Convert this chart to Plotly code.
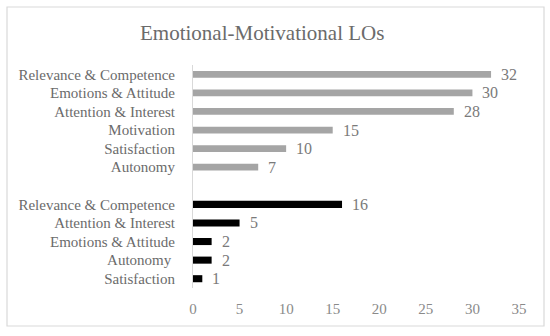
import plotly.graph_objects as go

title = "Emotional-Motivational LOs"
group1_labels = ["Relevance & Competence", "Emotions & Attitude", "Attention & Interest",
                 "Motivation", "Satisfaction", "Autonomy"]
group1_values = [32, 30, 28, 15, 10, 7]
group2_labels = ["Relevance & Competence", "Attention & Interest", "Emotions & Attitude",
                 "Autonomy\u00a0", "Satisfaction"]
group2_values = [16, 5, 2, 2, 1]
x_ticks = [0, 5, 10, 15, 20, 25, 30, 35]

FONT = "Liberation Serif"
n1 = len(group1_labels)
pos1 = list(range(n1))
pos2 = [n1 + 1 + i for i in range(len(group2_labels))]
n_rows = n1 + 1 + len(group2_labels)

fig = go.Figure()
fig.add_trace(go.Bar(y=pos1, x=group1_values, orientation="h",
                     marker=dict(color="#a5a5a5", line=dict(width=0)), width=0.36))
fig.add_trace(go.Bar(y=pos2, x=group2_values, orientation="h",
                     marker=dict(color="#000000", line=dict(width=0)), width=0.38))

for p, v in list(zip(pos1, group1_values)) + list(zip(pos2, group2_values)):
    fig.add_annotation(x=v, y=p, text=str(v), showarrow=False, xanchor="left",
                       xshift=8, font=dict(family=FONT, size=16, color="#7a7a7a"))

L, R, T, B = 193, 31, 65, 48
W, H = 550, 336
pw, ph = W - L - R, H - T - B
def px_x(px):
    return (px - L) / pw
def px_y(py):
    return (H - B - py) / ph

fig.add_shape(type="rect", xref="paper", yref="paper",
              x0=px_x(7), x1=px_x(544), y0=px_y(326), y1=px_y(7),
              line=dict(color="#d9d9d9", width=1.2), layer="below")

fig.add_annotation(xref="paper", yref="paper", x=px_x(262), y=px_y(33),
                   text=title, showarrow=False, xanchor="center", yanchor="middle",
                   font=dict(family=FONT, size=21, color="#6b6b6b"))

fig.update_layout(
    width=W, height=H, margin=dict(l=L, r=R, t=T, b=B),
    paper_bgcolor="white", plot_bgcolor="white", showlegend=False,
    barmode="overlay",
    xaxis=dict(range=[0, 35], tickvals=x_ticks, showgrid=False, zeroline=False,
               showline=False, ticks="", ticklabelstandoff=10,
               tickfont=dict(family=FONT, size=15, color="#8a8a8a")),
    yaxis=dict(range=[n_rows - 0.5, -0.5], tickvals=pos1 + pos2,
               ticktext=group1_labels + group2_labels, showgrid=False, zeroline=False,
               showline=True, linecolor="#d9d9d9", linewidth=1, ticks="",
               ticklabelstandoff=14,
               tickfont=dict(family=FONT, size=15, color="#6b6b6b")),
)

fig.write_html("out.html", post_script="document.body.style.margin='0';",
               config={"displayModeBar": False})
